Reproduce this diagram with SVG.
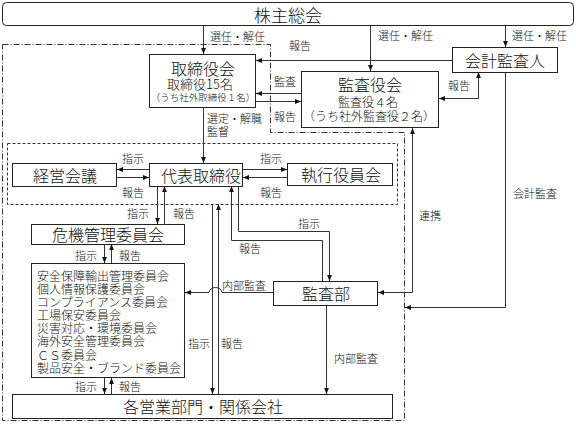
<svg xmlns="http://www.w3.org/2000/svg" width="576" height="424" viewBox="0 0 576 424">
<style>
text{font-family:"Noto Sans CJK JP","Noto Sans",sans-serif;fill:#111;dominant-baseline:central;font-weight:300}
.b{fill:#fff;stroke:#222;stroke-width:1}
.t16{font-size:16px;text-anchor:middle}
.t12{font-size:12px;text-anchor:middle}
.l{font-size:11px}
.m{font-size:12px}
.c{fill:none;stroke:#333;stroke-width:1}
.dd{fill:none;stroke:#333;stroke-width:1;stroke-dasharray:6 2 1 2}
.ds{fill:none;stroke:#333;stroke-width:1;stroke-dasharray:3 2}
</style>
<defs>
<marker id="a" viewBox="0 0 10 10" refX="10" refY="5" markerWidth="6" markerHeight="6" orient="auto-start-reverse" markerUnits="userSpaceOnUse"><path d="M0,1 L10,5 L0,9 z" fill="#111"/></marker>
</defs>
<rect width="576" height="424" fill="#fff"/>
<g id="boundaries">
<path class="dd" d="M2.5 44.5 H270.5 V132.5 H404.5 V420.5 H2.5 Z"/>
<rect class="ds" x="7.5" y="143.5" width="390" height="61"/>
</g>
<g id="connectors">
<path class="c" d="M203.5 25 V54" marker-end="url(#a)"/>
<path class="c" d="M370.5 25 V71" marker-end="url(#a)"/>
<path class="c" d="M505.5 25 V47" marker-end="url(#a)"/>
<path class="c" d="M452 60.5 H256" marker-end="url(#a)"/>
<path class="c" d="M301 93.5 H256" marker-end="url(#a)"/>
<path class="c" d="M256 101.5 H301" marker-end="url(#a)"/>
<path class="c" d="M478.5 72 V98.5 H439" marker-start="url(#a)" marker-end="url(#a)"/>
<path class="c" d="M505.5 72 V307.5 H405" marker-end="url(#a)"/>
<path class="c" d="M412.5 128 V292.5 H378" marker-start="url(#a)" marker-end="url(#a)"/>
<path class="c" d="M203.5 107 V163" marker-end="url(#a)"/>
<path class="c" d="M149 169.5 H117" marker-end="url(#a)"/>
<path class="c" d="M117 177.5 H149" marker-end="url(#a)"/>
<path class="c" d="M243 169.5 H287" marker-end="url(#a)"/>
<path class="c" d="M287 177.5 H243" marker-end="url(#a)"/>
<path class="c" d="M157.5 186 V224" marker-end="url(#a)"/>
<path class="c" d="M164.5 224 V186" marker-end="url(#a)"/>
<path class="c" d="M104.5 244 V263" marker-end="url(#a)"/>
<path class="c" d="M111.5 263 V244" marker-end="url(#a)"/>
<path class="c" d="M104.5 378 V394" marker-end="url(#a)"/>
<path class="c" d="M111.5 394 V378" marker-end="url(#a)"/>
<path class="c" d="M212.5 204 V394" marker-end="url(#a)"/>
<path class="c" d="M218.5 394 V204" marker-end="url(#a)"/>
<path class="c" d="M238.5 186 V231.5 H329.5 V281" marker-end="url(#a)"/>
<path class="c" d="M322.5 281 V240.5 H231.5 V186" marker-end="url(#a)"/>
<path class="c" d="M273 292.5 H222 A6.5 5 0 0 0 209 292.5 H185" marker-end="url(#a)"/>
<path class="c" d="M326.5 305 V394" marker-end="url(#a)"/>
</g>
<g id="labels">
<text class="l" x="210" y="36">選任・解任</text>
<text class="l" x="378" y="35">選任・解任</text>
<text class="l" x="512" y="35">選任・解任</text>
<text class="l" x="289" y="45">報告</text>
<text class="l" x="274" y="81">監査</text>
<text class="l" x="274" y="116">報告</text>
<text class="l" x="448" y="85">報告</text>
<text class="l" x="207" y="118">選定・解職</text>
<text class="l" x="207" y="131">監督</text>
<text class="l" x="122" y="158">指示</text>
<text class="l" x="122" y="192">報告</text>
<text class="l" x="260" y="158">指示</text>
<text class="l" x="260" y="192">報告</text>
<text class="l" x="127" y="213">指示</text>
<text class="l" x="173" y="213">報告</text>
<text class="l" x="75" y="255">指示</text>
<text class="l" x="119" y="255">報告</text>
<text class="l" x="75" y="386">指示</text>
<text class="l" x="119" y="386">報告</text>
<text class="l" x="188" y="343">指示</text>
<text class="l" x="221" y="343">報告</text>
<text class="l" x="222" y="285">内部監査</text>
<text class="l" x="298" y="223">指示</text>
<text class="l" x="239" y="248">報告</text>
<text class="l" x="419" y="215">連携</text>
<text class="l" x="513" y="193">会計監査</text>
<text class="l" x="334" y="358">内部監査</text>
</g>
<g id="kabunushi">
<rect class="b" x="2.5" y="2.5" width="571" height="23" rx="4"/>
<text class="t16" x="288" y="14" style="font-size:17px">株主総会</text>
</g>
<g id="torishimariyakukai">
<rect class="b" x="149.5" y="54.5" width="106" height="53"/>
<text class="t16" x="203" y="68">取締役会</text>
<text class="t12" x="200" y="83" style="font-size:13px">取締役15名</text>
<text class="t12" x="203" y="97" style="font-size:9.5px">（うち社外取締役１名）</text>
</g>
<g id="kansayakukai">
<rect class="b" x="301.5" y="71.5" width="137" height="56"/>
<text class="t16" x="370" y="84">監査役会</text>
<text class="t12" x="368" y="101">監査役４名</text>
<text class="t12" x="369" y="115">（うち社外監査役２名）</text>
</g>
<g id="kaikeikansanin">
<rect class="b" x="452.5" y="47.5" width="105" height="25"/>
<text class="t16" x="505" y="60">会計監査人</text>
</g>
<g id="keieikaigi">
<rect class="b" x="12.5" y="163.5" width="104" height="23"/>
<text class="t16" x="65" y="175">経営会議</text>
</g>
<g id="daihyo">
<rect class="b" x="149.5" y="163.5" width="93" height="23"/>
<text class="t16" x="201" y="175">代表取締役</text>
</g>
<g id="shikko">
<rect class="b" x="287.5" y="163.5" width="105" height="22"/>
<text class="t16" x="341" y="174">執行役員会</text>
</g>
<g id="kiki">
<rect class="b" x="31.5" y="224.5" width="153" height="20"/>
<text class="t16" x="108" y="234">危機管理委員会</text>
</g>
<g id="committees">
<rect class="b" x="31.5" y="263.5" width="153" height="114"/>
<text class="m" x="37" y="275">安全保障輸出管理委員会</text>
<text class="m" x="37" y="288">個人情報保護委員会</text>
<text class="m" x="37" y="301.5">コンプライアンス委員会</text>
<text class="m" x="37" y="314.5">工場保安委員会</text>
<text class="m" x="37" y="327.5">災害対応・環境委員会</text>
<text class="m" x="37" y="340.5">海外安全管理委員会</text>
<text class="m" x="37" y="354">ＣＳ委員会</text>
<text class="m" x="37" y="367">製品安全・ブランド委員会</text>
</g>
<g id="kansabu">
<rect class="b" x="273.5" y="281.5" width="104" height="24"/>
<text class="t16" x="326" y="293">監査部</text>
</g>
<g id="eigyo">
<rect class="b" x="12.5" y="394.5" width="380" height="24"/>
<text class="t16" x="203" y="406">各営業部門・関係会社</text>
</g>
</svg>
